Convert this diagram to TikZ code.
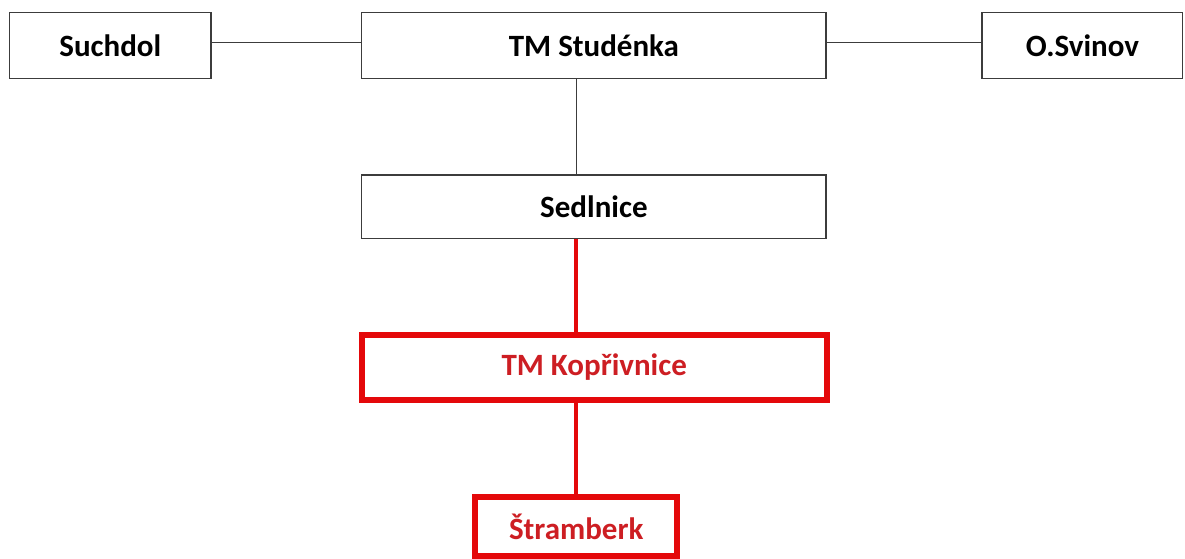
\documentclass[tikz,border=0pt]{standalone}
\usepackage{fontspec}
\setmainfont{Carlito}
\definecolor{boxred}{RGB}{228,8,10}
\definecolor{textred}{RGB}{205,30,35}
\definecolor{edge}{RGB}{60,60,60}
\begin{document}
\begin{tikzpicture}[x=1pt,y=-1pt,
  plain/.style={draw=edge,line width=1.3pt,fill=white,inner sep=0pt,
    minimum height=65.6pt,font=\fontsize{31}{36}\selectfont\bfseries,text=black},
  redbox/.style={draw=boxred,line width=6pt,fill=white,inner sep=0pt,
    font=\fontsize{31}{36}\selectfont\bfseries,text=textred},
  thin/.style={draw=edge,line width=1.3pt},
  thick/.style={draw=boxred,line width=4.5pt}]
\useasboundingbox (0,0) rectangle (1185,559);
\node[plain,minimum width=201.5pt] (suchdol) at (110.3,45.5) {Suchdol};
\node[plain,minimum width=464.3pt] (studenka) at (593.9,45.5) {TM Studénka};
\node[plain,minimum width=200.7pt] (svinov) at (1082.4,45.5) {O.Svinov};
\node[plain,minimum width=464.3pt,minimum height=63.7pt] (sedlnice) at (593.9,206.9) {Sedlnice};
\node[redbox,minimum width=465pt,minimum height=65pt] (koprivnice) at (594.2,367.5) {TM Kopřivnice};
\node[redbox,minimum width=201.7pt,minimum height=59.5pt] (stramberk) at (576.2,526.5) {Štramberk};
\draw[thin] ([yshift=3pt]suchdol.east) -- ([yshift=3pt]studenka.west);
\draw[thin] ([yshift=3pt]studenka.east) -- ([yshift=3pt]svinov.west);
\draw[thin] (studenka.south -| stramberk.north) -- (sedlnice.north -| stramberk.north);
\draw[thick] (sedlnice.south -| stramberk.north) -- (koprivnice.north -| stramberk.north);
\draw[thick] (koprivnice.south -| stramberk.north) -- (stramberk.north);
\end{tikzpicture}
\end{document}
